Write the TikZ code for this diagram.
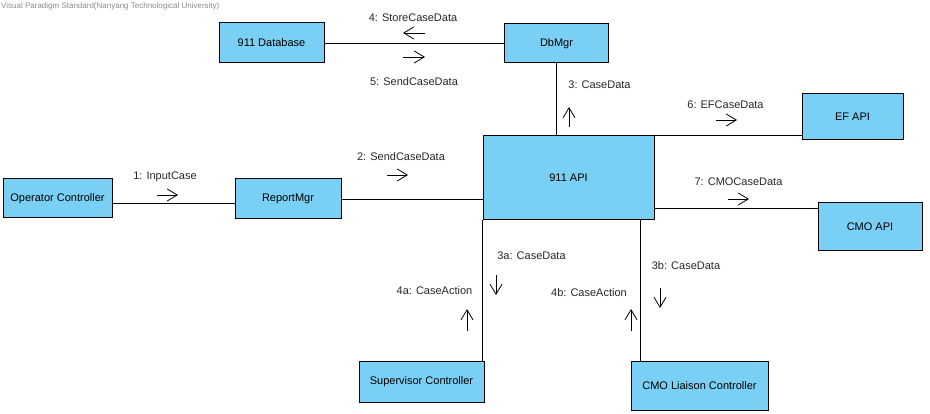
\documentclass[tikz,border=0pt]{standalone}
\usepackage{fontspec}
\setmainfont{Liberation Sans}
\usetikzlibrary{arrows.meta}
\definecolor{boxfill}{RGB}{122,207,245}
\definecolor{wmgray}{RGB}{140,140,140}
\definecolor{lbl}{RGB}{40,40,40}
\tikzset{
  obj/.style={draw=black, line width=1pt, fill=boxfill, inner sep=0pt, font=\fontsize{11}{13}\selectfont},
  link/.style={draw=black, line width=1pt},
  msglbl/.style={inner sep=0pt, text=lbl, font=\fontsize{11}{13}\selectfont},
  msgarrow/.style={-{Straight Barb[length=10pt,width=12pt]}, line width=0.8pt, draw=black}
}
\begin{document}
\begin{tikzpicture}[x=1pt,y=-1pt]
\useasboundingbox (0,0) rectangle (930,414);
\fill[white] (0,0) rectangle (930,414);
% watermark
\node[anchor=west, inner sep=0pt, text=wmgray, font=\fontsize{8}{9}\selectfont] (wm) at (1,6) {Visual Paradigm Standard(Nanyang Technological University)};
% objects
\node[obj, minimum width=105pt, minimum height=40pt] (db) at (271.5,43) {911 Database};
\node[obj, minimum width=104pt, minimum height=39pt] (dbmgr) at (556.5,43.5) {DbMgr};
\node[obj, minimum width=171pt, minimum height=84pt] (api) at (568.5,178) {911 API};
\node[obj, minimum width=109pt, minimum height=39pt] (op) at (57.5,198.5) {Operator Controller};
\node[obj, minimum width=106pt, minimum height=40pt] (rep) at (288,199) {ReportMgr};
\node[obj, minimum width=101pt, minimum height=46pt] (ef) at (852.5,117) {EF API};
\node[obj, minimum width=104pt, minimum height=48pt] (cmo) at (870,227) {CMO API};
\node[obj, minimum width=125pt, minimum height=40pt] (sup) at (421.5,382) {Supervisor Controller};
\node[obj, minimum width=137pt, minimum height=48pt] (liaison) at (699.5,386) {CMO Liaison Controller};
% links
\draw[link] (db.east |- 0,44) -- (dbmgr.west |- 0,44);
\draw[link] (dbmgr.south) -- (dbmgr.south |- api.north);
\draw[link] (op.east |- 0,204) -- (rep.west |- 0,204);
\draw[link] (rep.east |- 0,200) -- (api.west |- 0,200);
\draw[link] (api.north east) -- (api.north east -| ef.west);
\draw[link] (api.east |- 0,209) -- (cmo.west |- 0,209);
\draw[link] (api.south west) -- (api.south west |- sup.north);
\draw[link] (api.south -| 640,0) -- (liaison.north -| 640,0);
% message labels
\node[msglbl] (m4) at (413,18) {4: StoreCaseData};
\node[msglbl] (m5) at (414,82) {5: SendCaseData};
\node[msglbl] (m3) at (599.5,85) {3: CaseData};
\node[msglbl] (m1) at (165,177) {1: InputCase};
\node[msglbl] (m2) at (401,157) {2: SendCaseData};
\node[msglbl] (m6) at (725.5,105) {6: EFCaseData};
\node[msglbl] (m7) at (738.5,182) {7: CMOCaseData};
\node[msglbl] (m3a) at (531.5,256) {3a: CaseData};
\node[msglbl] (m4a) at (434.5,291) {4a: CaseAction};
\node[msglbl] (m3b) at (686,266) {3b: CaseData};
\node[msglbl] (m4b) at (589,293) {4b: CaseAction};
% message arrows
\coordinate (a4s) at (425,33); \coordinate (a4e) at (403,33);
\coordinate (a5s) at (403,57); \coordinate (a5e) at (425,57);
\coordinate (a3s) at (569,127); \coordinate (a3e) at (569,107);
\coordinate (a1s) at (157,195); \coordinate (a1e) at (178,195);
\coordinate (a2s) at (387,175); \coordinate (a2e) at (408,175);
\coordinate (a6s) at (716,120); \coordinate (a6e) at (737,120);
\coordinate (a7s) at (728,199); \coordinate (a7e) at (749,199);
\coordinate (a3as) at (496,275); \coordinate (a3ae) at (496,295);
\coordinate (a4as) at (467,331); \coordinate (a4ae) at (467,309);
\coordinate (a3bs) at (660,288); \coordinate (a3be) at (660,308);
\coordinate (a4bs) at (631,331); \coordinate (a4be) at (631,309);
\draw[msgarrow] (a4s) -- (a4e);
\draw[msgarrow] (a5s) -- (a5e);
\draw[msgarrow] (a3s) -- (a3e);
\draw[msgarrow] (a1s) -- (a1e);
\draw[msgarrow] (a2s) -- (a2e);
\draw[msgarrow] (a6s) -- (a6e);
\draw[msgarrow] (a7s) -- (a7e);
\draw[msgarrow] (a3as) -- (a3ae);
\draw[msgarrow] (a4as) -- (a4ae);
\draw[msgarrow] (a3bs) -- (a3be);
\draw[msgarrow] (a4bs) -- (a4be);
\end{tikzpicture}
\end{document}
